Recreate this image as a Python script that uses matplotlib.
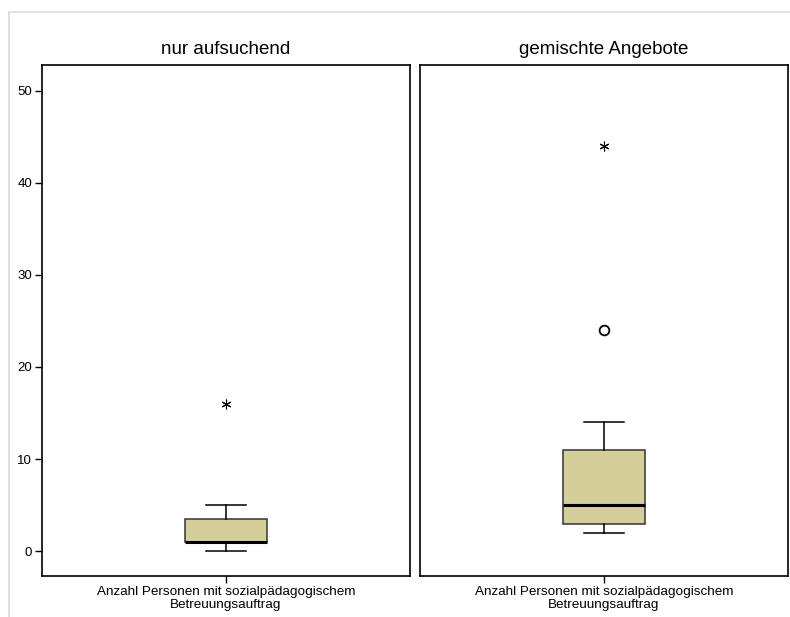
import matplotlib
matplotlib.use("Agg")
import matplotlib.pyplot as plt
from matplotlib.lines import Line2D

plt.rcParams["font.family"] = ["Liberation Sans", "DejaVu Sans"]

# Box plot statistics per group
groups = ["nur aufsuchend", "gemischte Angebote"]
q1 = [1, 3]
medians = [1, 5]
q3 = [3.5, 11]
whisker_low = [0, 2]
whisker_high = [5, 14]
outliers = [[], [24]]          # mild outliers (circles)
extremes = [[16], [44]]        # extreme values (asterisks)
variable_label = "Anzahl Personen mit sozialpädagogischem\nBetreuungsauftrag"
y_ticks = [0, 10, 20, 30, 40, 50]

W, H = 790, 617
fig = plt.figure(figsize=(W / 100, H / 100), dpi=100)

# light outer frame
frame_col = "#dcdcdc"
fig.add_artist(Line2D([9 / W, 1], [1 - 12 / H, 1 - 12 / H], color=frame_col, lw=1.2))
fig.add_artist(Line2D([9 / W, 9 / W], [0, 1 - 12 / H], color=frame_col, lw=1.2))

panel_left = [42, 420]
panel_w = 368
bottom_px, top_px = 576, 65
box_fill = "#d3ce9a"

for i, name in enumerate(groups):
    ax = fig.add_axes([panel_left[i] / W, (H - bottom_px) / H,
                       panel_w / W, (bottom_px - top_px) / H])
    stats = [dict(q1=q1[i], med=medians[i], q3=q3[i],
                  whislo=whisker_low[i], whishi=whisker_high[i],
                  fliers=[], label="")]
    ax.bxp(stats, positions=[0], widths=0.45, showfliers=False,
           patch_artist=True,
           boxprops=dict(facecolor=box_fill, edgecolor="#333333", linewidth=1.1),
           medianprops=dict(color="black", linewidth=2.2),
           whiskerprops=dict(color="black", linewidth=1.1),
           capprops=dict(color="black", linewidth=1.1),
           capwidths=0.22)
    if outliers[i]:
        ax.plot([0] * len(outliers[i]), outliers[i], linestyle="none",
                marker="o", markersize=7, markerfacecolor="white",
                markeredgecolor="black", markeredgewidth=1.3)
    if extremes[i]:
        ax.plot([0] * len(extremes[i]), extremes[i], linestyle="none",
                marker=(6, 2, 0), markersize=7, markeredgecolor="black",
                markeredgewidth=0.8)
    ax.set_xlim(-1, 1)
    ax.set_ylim(-2.7, 52.8)
    ax.set_title(name, fontsize=13.5, pad=8)
    ax.set_xticks([0])
    ax.set_xticklabels([variable_label], fontsize=9.7, linespacing=1.1)
    ax.tick_params(axis="x", length=5, width=1, color="black", pad=2)
    for s in ax.spines.values():
        s.set_linewidth(1.2)
        s.set_color("black")
    if i == 0:
        ax.set_yticks(y_ticks)
        ax.tick_params(axis="y", length=5, width=1, labelsize=9.5, pad=2)
    else:
        ax.set_yticks([])

fig.savefig("out.png", dpi=100)
